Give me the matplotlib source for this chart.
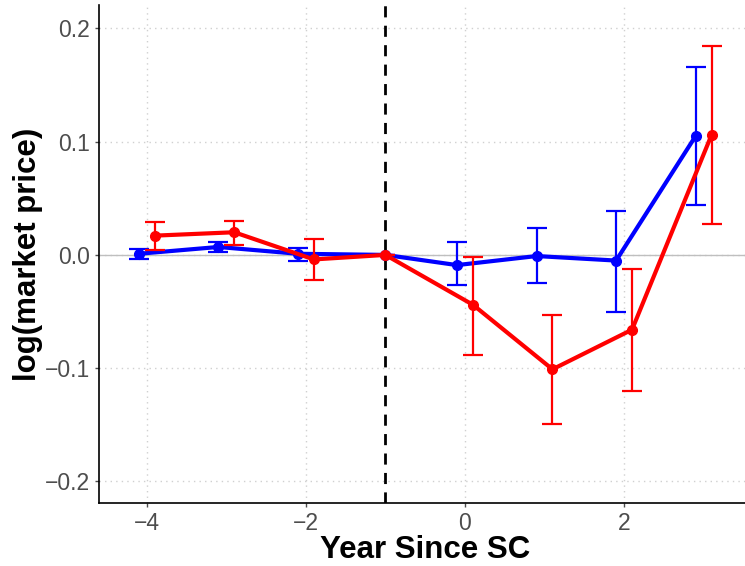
import matplotlib
matplotlib.use("Agg")
import matplotlib.pyplot as plt
import numpy as np

years = [-4, -3, -2, -1, 0, 1, 2, 3]
blue_est = [0.001, 0.007, 0.001, 0.0, -0.009, -0.001, -0.005, 0.105]
blue_lo = [-0.004, 0.003, -0.005, 0.0, -0.027, -0.025, -0.050, 0.044]
blue_hi = [0.005, 0.011, 0.006, 0.0, 0.011, 0.024, 0.039, 0.166]
red_est = [0.017, 0.020, -0.004, 0.0, -0.044, -0.101, -0.066, 0.106]
red_lo = [0.004, 0.009, -0.022, 0.0, -0.088, -0.149, -0.120, 0.027]
red_hi = [0.029, 0.030, 0.014, 0.0, -0.002, -0.053, -0.012, 0.184]
xticks = [-4, -2, 0, 2]
yticks = [-0.2, -0.1, 0.0, 0.1, 0.2]

plt.rcParams['font.family'] = ['Liberation Sans', 'DejaVu Sans']
fig = plt.figure(figsize=(7.45, 5.66), dpi=100)
ax = fig.add_axes([99/745, 63/566, 646/745, 498/566])

yrs = np.array(years, dtype=float)
def offs(d):
    x = yrs + d
    x[3] = -1
    return x

for est, lo, hi, col, d, z in [(blue_est, blue_lo, blue_hi, '#0000ff', -0.1, 3),
                               (red_est, red_lo, red_hi, '#ff0000', 0.1, 4)]:
    x = offs(d)
    est = np.array(est); lo = np.array(lo); hi = np.array(hi)
    ax.errorbar(x, est, yerr=[est - lo, hi - est], fmt='none', ecolor=col,
                elinewidth=1.6, capsize=7, capthick=1.6, zorder=z)
    ax.plot(x, est, color=col, lw=3, marker='o', ms=7, zorder=z)

ax.axhline(0, color='#bfbfbf', lw=1, zorder=1)
ax.axvline(-1, color='black', lw=2, ls=(0, (4, 3)), zorder=2)

ax.set_xlim(-4.6, 3.52)
ax.set_ylim(-0.219, 0.2206)
ax.set_xticks(xticks)
ax.set_xticklabels([f"{v}".replace('-', '\u2212') for v in xticks])
ax.set_yticks(yticks)
ax.set_yticklabels([f"{v:.1f}".replace('-', '\u2212') for v in yticks])
ax.grid(True, color='#d0d0d0', ls=(0, (1, 3)), lw=1)
ax.set_axisbelow(True)
for s in ['top', 'right']:
    ax.spines[s].set_visible(False)
for s in ['left', 'bottom']:
    ax.spines[s].set_color('black')
    ax.spines[s].set_linewidth(1.2)
ax.tick_params(colors='#4d4d4d', labelsize=16.5, length=3, width=1)
ax.set_xlabel('Year Since SC', fontsize=22.5, fontweight='bold')
ax.set_ylabel('log(market price)', fontsize=22.5, fontweight='bold')
ax.xaxis.set_label_coords(0.5, -(550 - 503) / 498, transform=ax.transAxes)
ax.xaxis.label.set_verticalalignment('center')
ax.yaxis.set_label_coords(-(99 - 28) / 646, 0.5, transform=ax.transAxes)
ax.yaxis.label.set_verticalalignment('center')
ax.xaxis.set_label_coords((425 - 99) / 646, -(550 - 503) / 498)

fig.savefig('out.png', dpi=100)
